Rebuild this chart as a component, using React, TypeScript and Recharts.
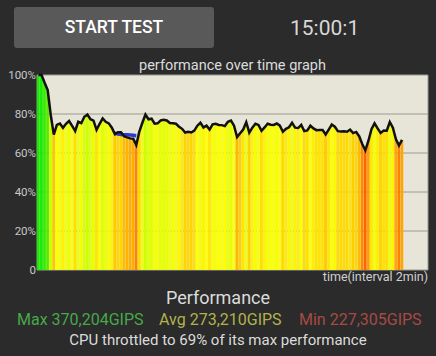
import React from "react";
import { ComposedChart, Bar, Line, Cell, XAxis, YAxis, CartesianGrid } from "recharts";

// performance % sampled every slot (128 slots on the time axis, 8 grid intervals)
const PERF = [
  100, 100, 96, 92.3, 79.5, 69.4, 74.4, 75.1, 72.9, 75, 76.4, 73.9, 71.3, 76, 75.3, 78.6,
  79.7, 77.3, 76.6, 71.9, 74.9, 77.7, 76, 75.2, 73, 69.7, 70.7, 70.7, 68.6, 68, 67.5, 67.3,
  64.1, 71, 75.5, 79.7, 77.3, 77.6, 75, 75.2, 76.7, 77, 76.7, 75.4, 75.2, 75, 73.5, 72.4,
  70.5, 70.9, 70.5, 71.5, 74, 75.5, 73.1, 74, 72, 74.7, 75, 74.4, 74.3, 73.8, 76, 76.6,
  74, 68.2, 70.1, 72, 75.8, 70.4, 73, 75, 74.4, 71.4, 73.1, 75, 74.5, 74.4, 75.1, 74,
  70.9, 72.4, 73.2, 75.5, 73, 72.8, 74.4, 71.2, 71.6, 74, 72.6, 71.7, 71.8, 71.8, 69.5, 72,
  74.6, 73.5, 71.2, 71, 71.1, 70.9, 72, 70.2, 70.8, 68.5, 64.5, 61.4, 66.3, 72.2, 75.2, 72.6,
  70.3, 71.5, 71.4, 75.9, 73, 67, 63.8, 66.7,
];

// blue band shown above the line in the early throttled stretch
const BLUE_START = 25;
const BLUE = [70.1, 69.7, 69.5, 69.4, 69.3, 69.2, 69.1, 68.9];

const X_TICKS = [0, 16, 32, 48, 64, 80, 96, 112, 128];
const Y_TICKS = [0, 20, 40, 60, 80, 100];

const data = PERF.map((v, i) => {
  const b = i - BLUE_START;
  return { t: i + 0.5, v, blue: b >= 0 && b < BLUE.length ? BLUE[b] : null };
});

// yellow around 74%, orange when throttled, green near full speed
function stripeColor(v: number) {
  let hue = v >= 74 ? 60 + (v - 74) * 2.1 : 60 - (74 - v) * 2.9;
  hue = Math.max(22, Math.min(115, hue));
  const light = hue > 95 ? 46 : 50;
  return `hsl(${hue}, 100%, ${light}%)`;
}

const txt: React.CSSProperties = {
  position: "absolute",
  fontFamily: "Roboto, sans-serif",
  lineHeight: 1,
  whiteSpace: "nowrap",
};

export default function App() {
  return (
    <div
      style={{
        position: "absolute",
        left: 0,
        top: 0,
        width: 436,
        height: 356,
        background: "#2b2b2b",
        overflow: "hidden",
      }}
    >
      <div
        style={{
          position: "absolute",
          left: 14,
          top: 7,
          width: 200,
          height: 41,
          background: "#595959",
          borderRadius: 3,
        }}
      />
      <div style={{ ...txt, left: 14, width: 200, top: 19, textAlign: "center", color: "#fff", fontSize: 17.5, fontWeight: 500 }}>
        START TEST
      </div>
      <div style={{ ...txt, left: 290, top: 18, color: "#d8d8d8", fontSize: 21 }}>15:00:1</div>
      <div style={{ ...txt, left: 37, width: 391, top: 59, textAlign: "center", color: "#dcdcdc", fontSize: 14.5 }}>
        performance over time graph
      </div>

      <div style={{ position: "absolute", left: 0, top: 0 }}>
        <ComposedChart
          width={436}
          height={290}
          data={data}
          margin={{ top: 75, right: 8, bottom: 20, left: 0 }}
          barGap={0}
          barCategoryGap={0}
        >
          <CartesianGrid fill="#e7e5d7" stroke="#9a9a92" strokeWidth={1} />
          <XAxis
            dataKey="t"
            type="number"
            domain={[0, 128]}
            ticks={X_TICKS}
            tick={false}
            axisLine={false}
            tickLine={false}
            height={0}
          />
          <YAxis
            type="number"
            domain={[0, 100]}
            ticks={Y_TICKS}
            width={37}
            axisLine={false}
            tickLine={false}
            tickSize={0}
            tickMargin={1}
            tickFormatter={(v: number) => (v === 0 ? "0" : `${v}%`)}
            tick={{ fill: "#c8c8c8", fontSize: 11.5, fontFamily: "Roboto, sans-serif" }}
          />
          <Bar dataKey="v" barSize={4} isAnimationActive={false}>
            {data.map((d, i) => (
              <Cell key={i} fill={stripeColor(d.v)} />
            ))}
          </Bar>
          <Line
            dataKey="blue"
            stroke="#2a3ad0"
            strokeWidth={3.5}
            dot={false}
            connectNulls={false}
            isAnimationActive={false}
          />
          <Line
            dataKey="v"
            stroke="#111"
            strokeWidth={2.5}
            dot={false}
            type="linear"
            isAnimationActive={false}
          />
        </ComposedChart>
      </div>

      <div style={{ ...txt, right: 8, top: 271, color: "#d0d0d0", fontSize: 12.5 }}>time(interval 2min)</div>
      <div style={{ ...txt, left: 0, width: 436, top: 289, textAlign: "center", color: "#dcdcdc", fontSize: 18 }}>
        Performance
      </div>
      <div style={{ ...txt, left: 17, top: 312, color: "#46a84a", fontSize: 16 }}>Max 370,204GIPS</div>
      <div style={{ ...txt, left: 159, top: 312, color: "#b2b24c", fontSize: 16 }}>Avg 273,210GIPS</div>
      <div style={{ ...txt, left: 299, top: 312, color: "#a84a44", fontSize: 16 }}>Min 227,305GIPS</div>
      <div style={{ ...txt, left: 0, width: 436, top: 333, textAlign: "center", color: "#dcdcdc", fontSize: 15 }}>
        CPU throttled to 69% of its max performance
      </div>
    </div>
  );
}
